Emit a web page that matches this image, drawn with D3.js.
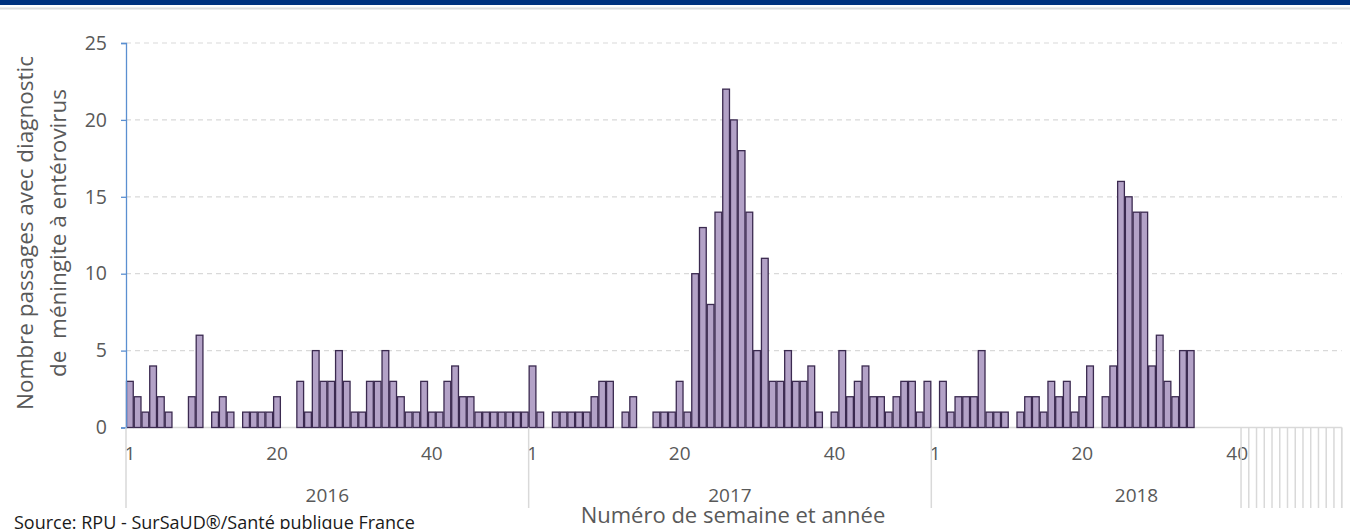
<!DOCTYPE html>
<html>
<head>
<meta charset="utf-8">
<script src="https://cdn.jsdelivr.net/npm/d3@7"></script>
<style>
  body { margin: 0; background: #fff; }
  svg { display: block; font-family: "Open Sans", sans-serif; }
</style>
</head>
<body>
<svg></svg>
<script>
// Declare data
let years = ["2016", "2017", "2018"];
let weeksPerYear = [52, 52, 53];
let labelledWeeks = [52, 52, 40]; // 2018 weeks after 40 have no label yet
let tickWeeks = [1, 20, 40];
let yTicks = [0, 5, 10, 15, 20, 25];

let values2016 = [3, 2, 1, 4, 2, 1, 0, 0, 2, 6, 0, 1, 2, 1, 0, 1, 1, 1, 1, 2,
  0, 0, 3, 1, 5, 3, 3, 5, 3, 1, 1, 3, 3, 5, 3, 2, 1, 1, 3, 1,
  1, 3, 4, 2, 2, 1, 1, 1, 1, 1, 1, 1];
let values2017 = [4, 1, 0, 1, 1, 1, 1, 1, 2, 3, 3, 0, 1, 2, 0, 0, 1, 1, 1, 3,
  1, 10, 13, 8, 14, 22, 20, 18, 14, 5, 11, 3, 3, 5, 3, 3, 4, 1, 0, 1,
  5, 2, 3, 4, 2, 2, 1, 2, 3, 3, 1, 3];
let values2018 = [0, 3, 1, 2, 2, 2, 5, 1, 1, 1, 0, 1, 2, 2, 1, 3, 2, 3, 1, 2,
  4, 0, 2, 4, 16, 15, 14, 14, 4, 6, 3, 2, 5, 5];

let yTitle = ["Nombre passages avec diagnostic", "de  méningite à entérovirus"];
let xTitle = "Numéro de semaine et année";
let source = "Source: RPU - SurSaUD®/Santé publique France";

// Layout
let width = 1350;
let height = 529;
let plotLeft = 126;
let plotRight = 1341.7;
let plotTop = 43;
let plotBottom = 427.5;

let textColor = "#595959";
let gridColor = "#d9d9d9";

let svg = d3.select("svg").attr("width", width).attr("height", height);

// Build the category list
let allValues = [values2016, values2017, values2018];
let rows = [];
years.forEach((year, i) => {
  for (let w = 1; w <= weeksPerYear[i]; w++) {
    let v = allValues[i][w - 1];
    rows.push({
      key: year + "-" + w,
      year: year,
      week: w,
      value: v === undefined ? 0 : v,
      labelled: w <= labelledWeeks[i],
    });
  }
});

let xScale = d3.scaleBand().domain(rows.map((d) => d.key)).range([plotLeft, plotRight]).padding(0);
let yScale = d3.scaleLinear().domain([0, 25]).range([plotBottom, plotTop]);
let bw = xScale.bandwidth();

// Header band
svg.append("rect").attr("x", 0).attr("y", 0).attr("width", width).attr("height", 5).attr("fill", "#00337f");
svg.append("rect").attr("x", 0).attr("y", 7.5).attr("width", width).attr("height", 2).attr("fill", "#dedede");

// Gridlines
svg.append("g")
  .selectAll("line")
  .data(yTicks.filter((t) => t > 0))
  .enter()
  .append("line")
  .attr("x1", plotLeft)
  .attr("x2", plotRight)
  .attr("y1", (t) => yScale(t))
  .attr("y2", (t) => yScale(t))
  .attr("stroke", gridColor)
  .attr("stroke-width", 1.2)
  .attr("stroke-dasharray", "5,4");

// Category axis baseline
svg.append("line")
  .attr("x1", plotLeft).attr("x2", plotRight)
  .attr("y1", plotBottom).attr("y2", plotBottom)
  .attr("stroke", gridColor).attr("stroke-width", 1.5);

// Bars
svg.append("g")
  .selectAll("rect")
  .data(rows.filter((d) => d.value > 0))
  .enter()
  .append("rect")
  .attr("x", (d) => xScale(d.key) + 0.5)
  .attr("width", bw - 1)
  .attr("y", (d) => yScale(d.value))
  .attr("height", (d) => yScale(0) - yScale(d.value))
  .attr("fill", "#b3a2c7")
  .attr("stroke", "#3b2a50")
  .attr("stroke-width", 1.3);

// Y axis
let yAxis = d3.axisLeft(yScale).tickValues(yTicks).tickSize(5).tickPadding(14);
let yG = svg.append("g").attr("transform", "translate(" + plotLeft + ",0)").call(yAxis);
yG.select(".domain").attr("stroke", "#5b8fd0").attr("stroke-width", 1.3);
yG.selectAll(".tick line").attr("stroke", "#5b8fd0").attr("stroke-width", 1.3);
yG.selectAll(".tick text")
  .attr("fill", textColor)
  .style("font-size", "19.5px")
  .style("font-family", "'Open Sans', sans-serif");

// Week labels
let xAxis = d3.axisBottom(xScale)
  .tickValues(rows.filter((d) => d.labelled && tickWeeks.includes(d.week)).map((d) => d.key))
  .tickFormat((k) => k.split("-")[1])
  .tickSize(0)
  .tickPadding(19);
let xG = svg.append("g").attr("transform", "translate(0," + plotBottom + ")").call(xAxis);
xG.select(".domain").remove();
xG.selectAll(".tick text")
  .attr("fill", textColor)
  .style("font-size", "19px")
  .style("font-family", "'Open Sans', sans-serif");

// Year separators and year labels
let yearStarts = years.map((y) => xScale(y + "-1"));
yearStarts.push(plotRight);
svg.append("g")
  .selectAll("line")
  .data(yearStarts)
  .enter()
  .append("line")
  .attr("x1", (x) => x).attr("x2", (x) => x)
  .attr("y1", plotBottom).attr("y2", 508)
  .attr("stroke", gridColor).attr("stroke-width", 1.5);

svg.append("g")
  .selectAll("text")
  .data(years)
  .enter()
  .append("text")
  .attr("x", (y, i) => (yearStarts[i] + yearStarts[i + 1]) / 2)
  .attr("y", 502)
  .attr("text-anchor", "middle")
  .attr("fill", textColor)
  .style("font-size", "19px")
  .text((y) => y);

// Boundary ticks for weeks with no label
let blank = rows.filter((d) => !d.labelled);
let blankEdges = blank.map((d) => xScale(d.key));
blankEdges.push(plotRight);
svg.append("g")
  .selectAll("line")
  .data(blankEdges)
  .enter()
  .append("line")
  .attr("x1", (x) => x).attr("x2", (x) => x)
  .attr("y1", plotBottom).attr("y2", 508)
  .attr("stroke", gridColor).attr("stroke-width", 1.5);

// Titles
let yt = svg.append("text")
  .attr("transform", "translate(0,233) rotate(-90)")
  .attr("text-anchor", "middle")
  .attr("fill", textColor)
  .style("font-size", "22.5px");
yt.append("tspan").attr("x", 0).attr("y", 33).text(yTitle[0]);
yt.append("tspan").attr("x", 0).attr("y", 66).style("white-space", "pre").text(yTitle[1]);

svg.append("text")
  .attr("x", 733)
  .attr("y", 522.5)
  .attr("text-anchor", "middle")
  .attr("fill", textColor)
  .style("font-size", "22px")
  .text(xTitle);

svg.append("text")
  .attr("x", 14)
  .attr("y", 528.5)
  .attr("fill", "#1a1a1a")
  .style("font-size", "18px")
  .text(source);
</script>
</body>
</html>
